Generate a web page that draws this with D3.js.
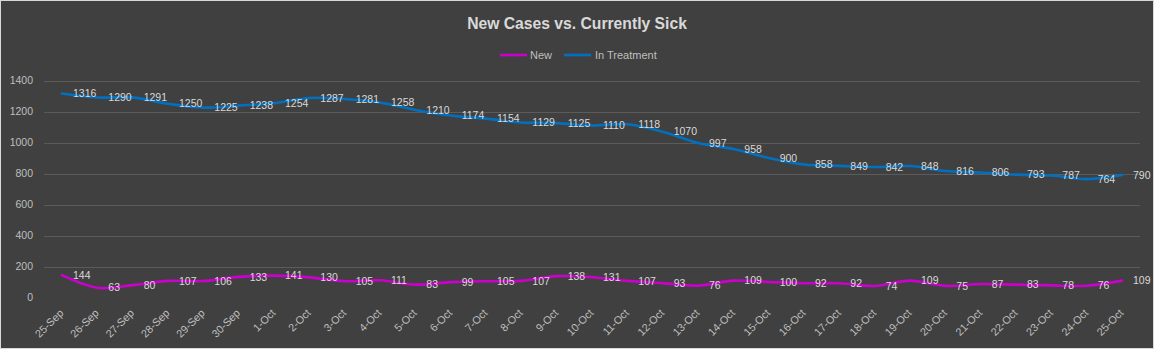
<!DOCTYPE html>
<html>
<head>
<meta charset="utf-8">
<script src="https://cdn.jsdelivr.net/npm/d3@7/dist/d3.min.js"></script>
<style>
  html, body { margin: 0; padding: 0; background: #404040; }
  svg { display: block; }
  text { font-family: "Liberation Sans", Arial, sans-serif; }
</style>
</head>
<body>
<svg id="chart" width="1154" height="349"></svg>
<script>
const categories = ["25-Sep","26-Sep","27-Sep","28-Sep","29-Sep","30-Sep","1-Oct","2-Oct","3-Oct","4-Oct","5-Oct","6-Oct","7-Oct","8-Oct","9-Oct","10-Oct","11-Oct","12-Oct","13-Oct","14-Oct","15-Oct","16-Oct","17-Oct","18-Oct","19-Oct","20-Oct","21-Oct","22-Oct","23-Oct","24-Oct","25-Oct"];
const newCases = [144,63,80,107,106,133,141,130,105,111,83,99,105,107,138,131,107,93,76,109,100,92,92,74,109,75,87,83,78,76,109];
const inTreatment = [1316,1290,1291,1250,1225,1238,1254,1287,1281,1258,1210,1174,1154,1129,1125,1110,1118,1070,997,958,900,858,849,842,848,816,806,793,787,764,790];
const yTicks = [0,200,400,600,800,1000,1200,1400];
const seriesNames = ["New","In Treatment"];
const seriesColors = ["#cc00cc","#0070c0"];
const title = "New Cases vs. Currently Sick";

const W = 1154, H = 349;
const plot = {left: 44.3, right: 1139.7, top: 80.5, bottom: 297.5};
const svg = d3.select("#chart");

svg.append("rect").attr("x",0.5).attr("y",0.5).attr("width",W-1).attr("height",H-1)
  .attr("fill","#404040").attr("stroke","#d9d9d9").attr("stroke-width",1);

const x = d3.scalePoint().domain(categories).range([plot.left, plot.right]).padding(0.5);
const y = d3.scaleLinear().domain([0,1400]).range([plot.bottom, plot.top]);

// gridlines
svg.append("g").selectAll("line").data(yTicks.filter(d => d > 0)).join("line")
  .attr("x1", plot.left).attr("x2", plot.right)
  .attr("y1", d => Math.round(y(d)) + 0.5).attr("y2", d => Math.round(y(d)) + 0.5)
  .attr("stroke","#5b5b5b").attr("stroke-width",1);

// y axis
const yAxis = d3.axisLeft(y).tickValues(yTicks).tickFormat(d3.format("d")).tickSize(0).tickPadding(0);
const yg = svg.append("g").attr("transform","translate(33,0)").call(yAxis);
yg.select(".domain").remove();
yg.selectAll("text").attr("fill","#bfbfbf").style("font-size","10.5px")
  .style("font-family","'Liberation Sans', Arial, sans-serif");

// x axis
const xAxis = d3.axisBottom(x).tickSize(0).tickPadding(0);
const xg = svg.append("g").attr("transform","translate(0,303)").call(xAxis);
xg.select(".domain").remove();
xg.selectAll("text")
  .attr("fill","#bfbfbf").style("font-size","10.8px")
  .style("font-family","'Liberation Sans', Arial, sans-serif")
  .attr("text-anchor","end")
  .attr("dy","0.35em")
  .attr("transform","translate(-1,8) rotate(-45)");

// lines
const line = d3.line().x((d,i) => x(categories[i])).y(d => y(d)).curve(d3.curveCatmullRom.alpha(0.5));
const allSeries = [newCases, inTreatment];
allSeries.forEach((vals, si) => {
  svg.append("path").datum(vals).attr("d", line)
    .attr("fill","none").attr("stroke", seriesColors[si]).attr("stroke-width",2.6)
    .attr("stroke-linejoin","round").attr("stroke-linecap","round");
});
allSeries.forEach((vals, si) => {
  svg.append("g").selectAll("text").data(vals).join("text")
    .attr("x", (d,i) => x(categories[i]) + 11)
    .attr("y", d => y(d))
    .attr("dy","0.35em")
    .attr("fill","#d9d9d9")
    .style("font-size","10.5px")
    .text(d => d);
});

// title
svg.append("text").attr("x",577).attr("y",29).attr("text-anchor","middle")
  .attr("fill","#d9d9d9").style("font-size","15.7px").style("font-weight","bold").text(title);

// legend
const legendItems = [{lx:500, tx:530}, {lx:564, tx:595}];
legendItems.forEach((it, i) => {
  svg.append("line").attr("x1",it.lx).attr("x2",it.lx+27).attr("y1",55).attr("y2",55)
    .attr("stroke",seriesColors[i]).attr("stroke-width",2.6);
  svg.append("text").attr("x",it.tx).attr("y",55).attr("dy","0.35em")
    .attr("fill","#bfbfbf").style("font-size","11px").text(seriesNames[i]);
});
</script>
</body>
</html>
